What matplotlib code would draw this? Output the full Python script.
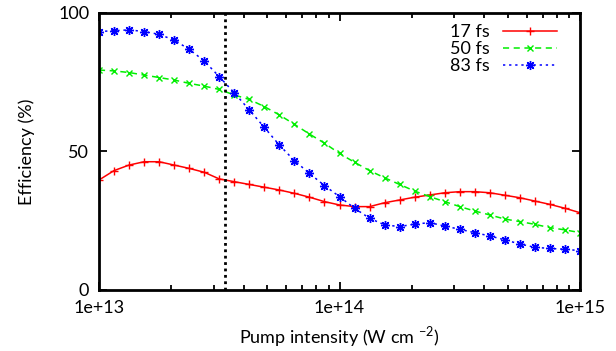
import numpy as np
import matplotlib
matplotlib.use("Agg")
import matplotlib.pyplot as plt
from matplotlib.ticker import LogLocator, FixedLocator, NullFormatter

# pump intensities: 16 points per decade from 1e13 to 1e15
intensity = 10 ** (13 + np.arange(33) / 16)

eff_17fs = [39.7, 43.1, 45.1, 46.3, 46.3, 45.1, 43.9, 42.5, 40.1, 39.1, 38.1,
            37.1, 36.1, 34.9, 33.5, 31.9, 30.7, 30.1, 30.1, 31.5, 32.5, 33.5,
            34.3, 35.1, 35.5, 35.5, 35.1, 34.2, 33.3, 32.1, 30.9, 29.5, 27.9]
eff_50fs = [79.4, 79.1, 78.5, 77.6, 76.7, 75.8, 74.6, 73.6, 72.4, 70.4, 68.8,
            66.2, 63.2, 59.8, 56.3, 53.0, 49.3, 46.1, 43.1, 40.5, 38.1, 35.7,
            33.7, 31.9, 30.1, 28.5, 27.1, 25.6, 24.7, 23.7, 22.5, 21.7, 20.7]
eff_83fs = [93.3, 93.6, 93.9, 93.3, 92.3, 90.2, 86.9, 82.7, 77.0, 71.2, 65.0,
            58.7, 52.3, 46.7, 42.1, 37.7, 33.7, 29.5, 25.9, 23.5, 22.9, 23.8,
            24.3, 23.1, 21.9, 20.7, 19.5, 18.1, 16.6, 15.4, 15.0, 14.7, 14.2]
marker_line = 3.33e13

plt.rcParams['font.family'] = ['Lato', 'DejaVu Sans']
plt.rcParams['font.size'] = 13
plt.rcParams['mathtext.fontset'] = 'custom'
plt.rcParams['mathtext.rm'] = 'Lato'

fig = plt.figure(figsize=(6.16, 3.51), dpi=100)
ax = fig.add_axes([0.1607, 0.1738, 0.7809, 0.7892])

ax.plot(intensity, eff_17fs, color='#ff0000', lw=1.1, ls='-', marker='+',
        ms=6, mew=1.0, label='17 fs')
ax.plot(intensity, eff_50fs, color='#00ee00', lw=1.1, ls=(0, (4, 3)), marker='x',
        ms=5, mew=1.0, label='50 fs')
ax.plot(intensity, eff_83fs, color='#0000ff', lw=1.1, ls=(0, (1.5, 2.5)),
        marker=(8, 2, 0), ms=6.5, mew=1.0, label='83 fs')
ax.axvline(marker_line, color='black', lw=2, ls=(0, (1, 1.3)))

ax.set_xscale('log')
ax.set_xlim(1e13, 1e15)
ax.set_ylim(0, 100)
ax.set_xticks([1e13, 1e14, 1e15])
ax.set_xticklabels(['1e+13', '1e+14', '1e+15'])
ax.xaxis.set_minor_locator(LogLocator(base=10, subs=np.arange(2, 10)))
ax.xaxis.set_minor_formatter(NullFormatter())
ax.yaxis.set_major_locator(FixedLocator([0, 50, 100]))

ax.tick_params(which='both', direction='in', top=True, right=True, width=1.3)
ax.tick_params(which='major', length=6, pad=7)
ax.tick_params(which='minor', length=3.5)
for s in ax.spines.values():
    s.set_linewidth(2)

ax.set_xlabel('Pump intensity (W cm $^{\\mathrm{-2}}$)', labelpad=6)
ax.set_ylabel('Efficiency (%)', labelpad=17)

ax.legend(loc='upper right', bbox_to_anchor=(0.967, 0.985), frameon=False,
          markerfirst=False, handlelength=3.0, labelspacing=0.05,
          borderaxespad=0.0, handletextpad=0.7)

fig.savefig('out.png', dpi=100)
